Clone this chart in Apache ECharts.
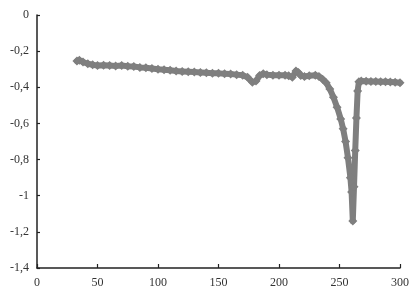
<!DOCTYPE html>
<html><head><meta charset="utf-8">
<script src="https://cdn.jsdelivr.net/npm/echarts@6/dist/echarts.min.js"></script>
<style>html,body{margin:0;padding:0;background:#fff}#c{width:412px;height:292px}</style>
</head><body><div id="c"></div>
<script>
var xValues = [33,35,38,42,46,50,55,60,65,70,75,80,85,90,95,100,105,110,115,120,125,130,135,140,145,150,155,160,165,170,174,178,181,184,187,190,195,200,205,208,211,214,216,218,221,225,230,233,236,239,242,245,248,251,253,255,257,259,260,261,262,263,264,265,266,268,272,276,280,284,288,292,296,300];
var yValues = [-0.255,-0.25,-0.26,-0.27,-0.275,-0.28,-0.278,-0.28,-0.282,-0.28,-0.283,-0.285,-0.29,-0.292,-0.296,-0.3,-0.303,-0.306,-0.31,-0.312,-0.314,-0.316,-0.318,-0.32,-0.322,-0.323,-0.325,-0.327,-0.33,-0.333,-0.345,-0.372,-0.365,-0.335,-0.325,-0.33,-0.333,-0.333,-0.334,-0.336,-0.345,-0.31,-0.318,-0.335,-0.34,-0.336,-0.333,-0.34,-0.355,-0.375,-0.41,-0.455,-0.51,-0.575,-0.63,-0.7,-0.79,-0.9,-0.98,-1.14,-0.95,-0.75,-0.57,-0.42,-0.37,-0.365,-0.366,-0.368,-0.368,-0.369,-0.37,-0.371,-0.372,-0.375];
var xTicks = [0,50,100,150,200,250,300];
var yTicks = [0,-0.2,-0.4,-0.6,-0.8,-1,-1.2,-1.4];

var data = xValues.map(function(x,i){return [x,yValues[i]];});
var chart = echarts.init(document.getElementById('c'));
var fmtY = function(v){var r=Math.round(v*10)/10; if(Math.abs(r)<1e-9) return '0'; return String(r).replace('.',',');};
chart.setOption({
  animation:false,
  backgroundColor:'#fff',
  grid:{left:37,right:12,top:15,bottom:24,containLabel:false},
  xAxis:{type:'value',min:0,max:300,interval:50,
    axisLine:{show:true,onZero:false,lineStyle:{color:'#222',width:1.5}},
    axisTick:{show:true,inside:true,length:4,lineStyle:{color:'#222',width:1.2}},
    axisLabel:{color:'#333',fontFamily:'Liberation Serif',fontSize:12,margin:9},
    splitLine:{show:false}},
  yAxis:{type:'value',min:-1.4,max:0,interval:0.2,
    axisLine:{show:true,onZero:false,lineStyle:{color:'#222',width:1.5}},
    axisTick:{show:true,inside:true,length:3,lineStyle:{color:'#222',width:1.2}},
    axisLabel:{color:'#333',fontFamily:'Liberation Serif',fontSize:12,margin:8,formatter:fmtY},
    splitLine:{show:false}},
  series:[{type:'line',data:data,symbol:'diamond',symbolSize:9,showAllSymbol:true,
    lineStyle:{color:'#7f7f7f',width:6,join:'round',cap:'round'},itemStyle:{color:'#7f7f7f'}}]
});
</script></body></html>
